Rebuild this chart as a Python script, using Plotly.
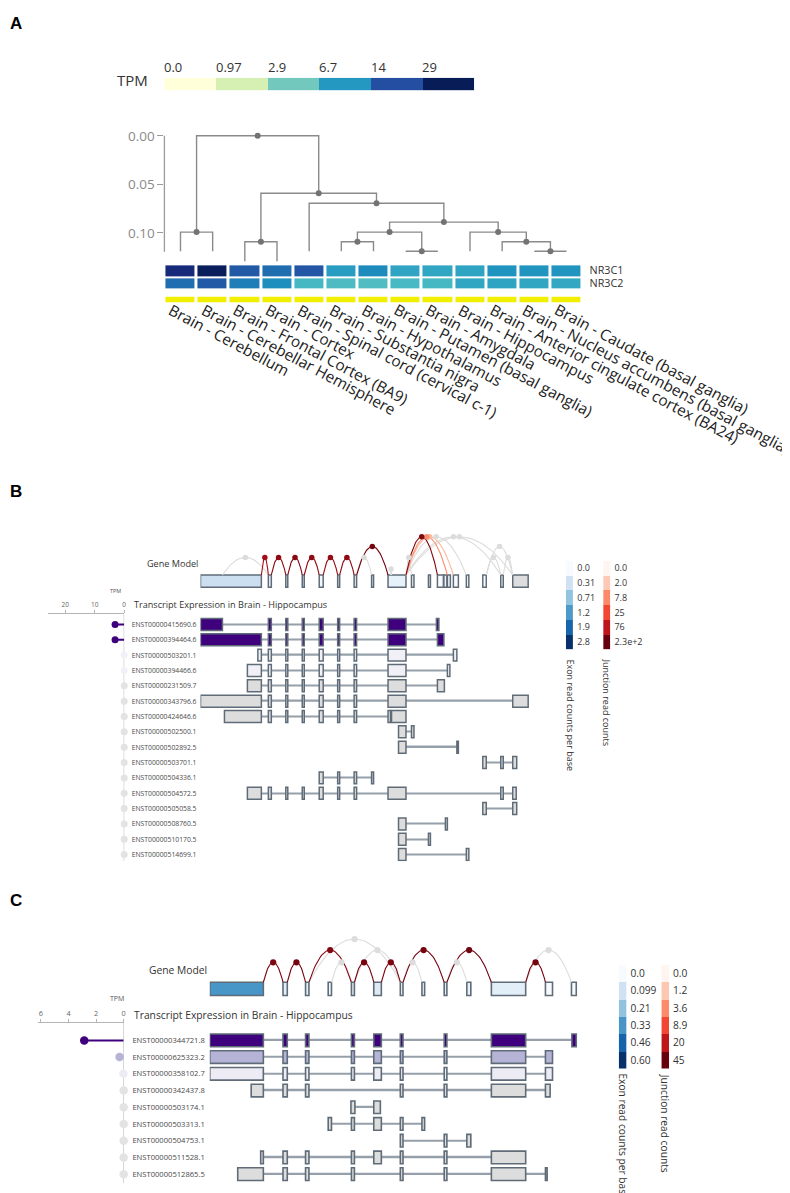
import numpy as np
import plotly.graph_objects as go

W, H = 790, 1193

# ----------------------------- colour scales -----------------------------
YLGNBU = ["#ffffd9", "#edf8b1", "#c7e9b4", "#7fcdbb", "#41b6c4", "#1d91c0", "#225ea8", "#253494", "#081d58"]
BLUES = ["#f7fbff", "#deebf7", "#c6dbef", "#9ecae1", "#6baed6", "#4292c6", "#2171b5", "#08519c", "#08306b"]
REDS = ["#fff5f0", "#fee0d2", "#fcbba1", "#fc9272", "#fb6a4a", "#ef3b2c", "#cb181d", "#a50f15", "#67000d"]
PURPLES = ["#fcfbfd", "#efedf5", "#dadaeb", "#bcbddc", "#9e9ac8", "#807dba", "#6a51a3", "#54278f", "#3f007d"]

# ----------------------------- Panel A data -----------------------------
tpm_bins = [0.0, 0.97, 2.9, 6.7, 14, 29]
tpm_bin_labels = ["0.0", "0.97", "2.9", "6.7", "14", "29"]
tissues = [
    "Brain - Cerebellum", "Brain - Cerebellar Hemisphere", "Brain - Frontal Cortex (BA9)",
    "Brain - Cortex", "Brain - Spinal cord (cervical c-1)", "Brain - Substantia nigra",
    "Brain - Hypothalamus", "Brain - Putamen (basal ganglia)", "Brain - Amygdala",
    "Brain - Hippocampus", "Brain - Anterior cingulate cortex (BA24)",
    "Brain - Nucleus accumbens (basal ganglia)", "Brain - Caudate (basal ganglia)",
]
genes = ["NR3C1", "NR3C2"]
nr3c1_tpm = [22.6, 28.5, 12.3, 10.2, 12.8, 6.4, 7.8, 5.7, 5.6, 5.8, 7.1, 7.0, 7.0]
nr3c2_tpm = [10.2, 12.5, 8.8, 7.5, 4.3, 4.0, 3.9, 4.2, 4.3, 5.6, 5.8, 5.6, 5.4]
# dendrogram merges (child a, child b, height); new node ids continue after the 13 leaves
dendro_merges = [
    (0, 1, 0.0993), (2, 3, 0.1093), (5, 6, 0.1093), (7, 8, 0.119), (15, 16, 0.0993),
    (11, 12, 0.119), (10, 18, 0.1093), (9, 19, 0.0993), (17, 20, 0.089), (4, 21, 0.0695),
    (14, 22, 0.0592), (13, 23, 0.0),
]
leaf_depth = [0.119, 0.119, 0.1294, 0.1294, 0.119, 0.119, 0.119, 0.119, 0.119, 0.119, 0.119, 0.119, 0.119]
dendro_ticks = [0.0, 0.05, 0.10]
dendro_tick_labels = ["0.00", "0.05", "0.10"]

# ----------------------------- Panel B data -----------------------------
b_exons = [(0, 61), (68, 71), (85.5, 87.5), (102, 104), (119, 123), (137.5, 139.5), (154, 156.5),
           (171.5, 173.5), (188, 206), (211.5, 214), (228.5, 230.5), (237.5, 243.5), (244, 247),
           (247.5, 250.5), (253.5, 258.5), (266.5, 269), (283, 286.5), (301, 303.5), (313, 328.5)]
b_exon_reads = [0.34, 0.10, 0.20, 0.20, 0.05, 0.20, 0.10, 0.05, 0.11, 0.05, 0.02, 0.0, 0.05,
                0.05, 0.0, 0.0, 0.0, 0.02, None]
b_exon_bins = [0.0, 0.31, 0.71, 1.2, 1.9, 2.8]
b_exon_bin_labels = ["0.0", "0.31", "0.71", "1.2", "1.9", "2.8"]
b_junc_bins = [0.0, 2.0, 7.8, 25, 76, 230]
b_junc_bin_labels = ["0.0", "2.0", "7.8", "25", "76", "2.3e+2"]
# (start, end, arc rise, read count)
b_junctions = [
    (22, 68, 17.6, 0), (156.5, 171.5, 17.6, 0), (190.5, 191.5, 6, 0), (206, 211.5, 17.6, 0),
    (206, 266.5, 38.3, 0), (206, 301, 38.3, 0), (206, 313, 38.3, 0), (286.5, 301, 17.6, 0),
    (303.5, 313, 17.6, 0), (286.5, 313, 28.6, 0), (206, 253.5, 38.3, 3), (206, 247.5, 38.3, 7),
    (61, 68, 17.6, 120), (71, 85.5, 17.6, 150), (87.5, 102, 17.6, 160), (104, 119, 17.6, 150),
    (123, 137.5, 17.6, 140), (139.5, 154, 17.6, 150), (156.5, 188, 28.6, 200), (206, 237.5, 38.3, 170),
]
b_ids = ["ENST00000415690.6", "ENST00000394464.6", "ENST00000503201.1", "ENST00000394466.6",
         "ENST00000231509.7", "ENST00000343796.6", "ENST00000424646.6", "ENST00000502500.1",
         "ENST00000502892.5", "ENST00000503701.1", "ENST00000504336.1", "ENST00000504572.5",
         "ENST00000505058.5", "ENST00000508760.5", "ENST00000510170.5", "ENST00000514699.1"]
b_tpm = [3.1, 3.1, 0.01, 0.01, 0, 0, 0, 0, 0, 0, 0, 0, 0, 0, 0, 0]
b_tx_exons = [
    [(0, 22), (68, 71), (85.5, 87.5), (102, 104), (119, 123), (137.5, 139.5), (154, 156.5), (188, 206), (236.5, 239)],
    [(0, 61), (68, 71), (85.5, 87.5), (102, 104), (119, 123), (137.5, 139.5), (154, 156.5), (188, 206), (237.5, 244)],
    [(57.5, 61), (68, 71), (85.5, 87.5), (102, 104), (119, 123), (137.5, 139.5), (154, 156.5), (188, 206), (253.5, 257)],
    [(47, 61), (68, 71), (85.5, 87.5), (102, 104), (119, 123), (137.5, 139.5), (154, 156.5), (188, 206), (247.5, 250)],
    [(47, 61), (68, 71), (85.5, 87.5), (102, 104), (119, 123), (137.5, 139.5), (154, 156.5), (188, 206), (237.5, 244.5)],
    [(0, 61), (68, 71), (85.5, 87.5), (102, 104), (119, 123), (137.5, 139.5), (154, 156.5), (188, 206), (313, 328.5)],
    [(24, 61), (68, 71), (85.5, 87.5), (102, 104), (119, 123), (137.5, 139.5), (154, 156.5), (188, 190.5), (191.5, 206)],
    [(198.5, 206), (211.5, 214)],
    [(198.5, 206), (257, 258.5)],
    [(283, 286.5), (301, 303.5), (313, 317)],
    [(119, 123), (137.5, 139.5), (154, 156.5), (171.5, 173.5)],
    [(47, 61), (68, 71), (85.5, 87.5), (102, 104), (119, 123), (137.5, 139.5), (154, 156.5), (188, 206), (301, 303.5), (313, 316.5)],
    [(283, 286.5), (313, 317)],
    [(198.5, 206), (245.5, 247.5)],
    [(198.5, 206), (228.5, 230.5)],
    [(198.5, 206), (266.5, 269)],
]

# ----------------------------- Panel C data -----------------------------
c_exons = [(0, 53.7), (73.4, 77.7), (96, 99.4), (118.7, 122), (142, 145), (164.4, 172), (191, 193.7),
           (212.7, 215.4), (235, 237.7), (257.7, 261.7), (282.3, 316.7), (336.5, 343.6), (362.6, 367.4)]
c_exon_reads = [0.33, 0.05, 0.05, 0.02, 0.05, 0.06, 0.02, 0.01, 0.04, 0.03, 0.05, 0.0, 0.0]
c_exon_bins = [0.0, 0.099, 0.21, 0.33, 0.46, 0.60]
c_exon_bin_labels = ["0.0", "0.099", "0.21", "0.33", "0.46", "0.60"]
c_junc_bins = [0.0, 1.2, 3.6, 8.9, 20, 45]
c_junc_bin_labels = ["0.0", "1.2", "3.6", "8.9", "20", "45"]
c_junctions = [
    (99.4, 191, 43.3, 0), (122, 142, 20, 0), (145, 191, 32.3, 0), (193.7, 212.7, 20, 0),
    (237.7, 257.7, 20, 0), (316.7, 362.6, 32.3, 0),
    (53.7, 73.4, 20, 38), (77.7, 96, 20, 40), (99.4, 142, 32.3, 36), (145, 164.4, 20, 40),
    (172, 191, 20, 38), (193.7, 235, 32.3, 40), (237.7, 282.3, 32.3, 42), (316.7, 336.5, 20, 40),
]
c_ids = ["ENST00000344721.8", "ENST00000625323.2", "ENST00000358102.7", "ENST00000342437.8",
         "ENST00000503174.1", "ENST00000503313.1", "ENST00000504753.1", "ENST00000511528.1",
         "ENST00000512865.5"]
c_tpm = [2.86, 0.3, 0.02, 0, 0, 0, 0, 0, 0]
c_tx_exons = [
    [(0, 53.7), (73.4, 77.7), (96, 99.4), (142, 145), (164.4, 172), (191, 193.7), (235, 237.7), (282.3, 316.7), (363, 367.4)],
    [(0, 53.7), (73.4, 77.7), (96, 99.4), (142, 145), (164.4, 172), (191, 193.7), (235, 237.7), (282.3, 316.7), (336.5, 343.6)],
    [(0, 53.7), (73.4, 77.7), (96, 99.4), (142, 145), (164.4, 172), (191, 193.7), (235, 237.7), (282.3, 316.7), (336.5, 343.6)],
    [(41.5, 53.7), (73.4, 77.7), (96, 99.4), (191, 193.7), (235, 237.7), (282.3, 316.7), (336.5, 341.2)],
    [(141.5, 145.5), (164.4, 171)],
    [(118.7, 122), (142, 145), (164.4, 172), (191, 193.7), (212.7, 215.4)],
    [(191, 193.7), (235, 237.7), (257.7, 261.7)],
    [(51, 53.7), (73.4, 77.7), (96, 99.4), (142, 145), (164.4, 172), (191, 193.7), (235, 237.7), (282.3, 316.7)],
    [(28, 53.7), (73.4, 77.7), (96, 99.4), (142, 145), (191, 193.7), (235, 237.7), (282.3, 316.7), (336.5, 338.2)],
]

# ----------------------------- helpers -----------------------------
OUTLINE = "#5f6c78"
INTRON = "#96a0aa"
NODATA = "#dddddd"
JGREY = "#dcdcdc"
AXC = "#b5b5b5"
FONT = "Open Sans"


def hex2rgb(h):
    h = h.lstrip("#")
    return tuple(int(h[i:i + 2], 16) for i in (0, 2, 4))


def interp(colors, t):
    t = min(max(float(t), 0.0), 1.0)
    n = len(colors) - 1
    i = min(int(t * n), n - 1)
    f = t * n - i
    c0, c1 = hex2rgb(colors[i]), hex2rgb(colors[i + 1])
    return "rgb(%d,%d,%d)" % tuple(round(a + (b - a) * f) for a, b in zip(c0, c1))


def xdom(a, b):
    return [a / W, b / W]


def ydom(top, bottom):
    return [1 - bottom / H, 1 - top / H]


def px(x):
    return x / W


def py(y):
    return 1 - y / H


def hidden(**kw):
    d = dict(showgrid=False, zeroline=False, showline=False, ticks="", showticklabels=False, fixedrange=True)
    d.update(kw)
    return d


traces, annotations, shapes = [], [], []
layout = {}


def text(x, y, s, size, color="#333", xanchor="left", yanchor="middle", **kw):
    d = dict(x=px(x), y=py(y), xref="paper", yref="paper", text=s, showarrow=False,
             xanchor=xanchor, yanchor=yanchor, font=dict(size=size, color=color, family=FONT))
    d.update(kw)
    annotations.append(d)


# ============================= Panel A =============================
for lab, (lxp, lyp) in zip(["A", "B", "C"], [(8.5, 10.5), (8, 481), (8, 891.5)]):
    text(lxp, lyp, "<b>%s</b>" % lab, 17, "#000", xanchor="center",
         font=dict(size=17, color="#000", family="Liberation Sans"))

# TPM legend
tmax_log = np.log10(tpm_bins[-1] + 1)
leg_cols = [interp(YLGNBU, np.log10(b + 1) / tmax_log) for b in tpm_bins]
nb = len(tpm_bins)
traces.append(go.Heatmap(z=[list(range(nb))], x=list(range(nb)), y=[0],
                         colorscale=[[i / (nb - 1), c] for i, c in enumerate(leg_cols)],
                         zmin=0, zmax=nb - 1, showscale=False, hoverinfo="skip", xaxis="x", yaxis="y"))
layout["xaxis"] = hidden(domain=xdom(156.7, 467.3), range=[-0.5, nb - 0.5], anchor="y")
layout["yaxis"] = hidden(domain=ydom(65, 77.7), range=[-0.5, 0.5], anchor="x")
for i, lab in enumerate(tpm_bin_labels):
    annotations.append(dict(x=i - 0.5, xref="x", y=py(54), yref="paper", text=lab, showarrow=False,
                            xanchor="left", yanchor="middle", xshift=-2,
                            font=dict(size=13, color="#333", family=FONT)))
text(142, 67, "TPM", 15, "#333", xanchor="right")

# dendrogram
nleaf = len(tissues)
node_x = {i: float(i) for i in range(nleaf)}
node_h = {i: leaf_depth[i] for i in range(nleaf)}
lx, ly, dxs, dys = [], [], [], []
for k, (a, b, h) in enumerate(dendro_merges):
    nid = nleaf + k
    xa, xb = node_x[a], node_x[b]
    lx += [xa, xa, xb, xb, None]
    ly += [node_h[a], h, h, node_h[b], None]
    node_x[nid] = (xa + xb) / 2
    node_h[nid] = h
    dxs.append(node_x[nid])
    dys.append(h)
traces.append(go.Scatter(x=lx, y=ly, mode="lines", line=dict(color="#8a8a8a", width=1.4),
                         hoverinfo="skip", xaxis="x2", yaxis="y2"))
traces.append(go.Scatter(x=dxs, y=dys, mode="markers", marker=dict(color="#737373", size=6),
                         hoverinfo="skip", xaxis="x2", yaxis="y2", cliponaxis=False))
HM_X = (156.8, 576.05)
DEN_PX0, DEN_SCALE = 123.3, 974.0
den_top, den_bot = 119.0, 251.0
layout["xaxis2"] = hidden(domain=xdom(*HM_X), range=[-0.5, nleaf - 0.5], anchor="y2")
layout["yaxis2"] = hidden(domain=ydom(den_top, den_bot),
                          range=[(den_bot - DEN_PX0) / DEN_SCALE, (den_top - DEN_PX0) / DEN_SCALE],
                          anchor="x2", tickvals=dendro_ticks, ticktext=dendro_tick_labels,
                          showticklabels=True, ticks="outside", ticklen=6, tickcolor="#9a9a9a",
                          tickfont=dict(size=13.5, color="#8a8a8a", family=FONT))
shapes.append(dict(type="line", xref="x2 domain", x0=0, x1=0, yref="y2", y0=0, y1=0.1195,
                   line=dict(color="#9a9a9a", width=1.3)))

# expression heatmap
zlog = [[float(np.log10(v + 1)) for v in nr3c1_tpm], [float(np.log10(v + 1)) for v in nr3c2_tpm]]
traces.append(go.Heatmap(z=zlog, x=tissues, y=genes,
                         colorscale=[[i / (len(YLGNBU) - 1), c] for i, c in enumerate(YLGNBU)],
                         zmin=0, zmax=tmax_log, showscale=False, xgap=3, ygap=2, hoverinfo="skip",
                         xaxis="x3", yaxis="y3"))
layout["xaxis3"] = hidden(domain=xdom(*HM_X), range=[-0.5, nleaf - 0.5], anchor="y3")
layout["yaxis3"] = hidden(domain=ydom(252.4, 278.0), range=[len(genes) - 0.5, -0.5], anchor="x3", side="right",
                          showticklabels=True, ticklabelstandoff=6, type="category",
                          tickmode="array", tickvals=genes, ticktext=genes,
                          tickfont=dict(size=10.8, color="#333", family=FONT))

# tissue colour bar
traces.append(go.Heatmap(z=[[1] * nleaf], x=tissues, y=["tissue"], colorscale=[[0, "#f2ee00"], [1, "#f2ee00"]],
                         showscale=False, xgap=3, hoverinfo="skip", xaxis="x4", yaxis="y4"))
layout["xaxis4"] = hidden(domain=xdom(*HM_X), range=[-0.5, nleaf - 0.5], anchor="y4")
layout["yaxis4"] = hidden(domain=ydom(284.7, 290.7), anchor="x4")
for t in tissues:
    annotations.append(dict(x=t, xref="x4", y=py(285), yref="paper", text=t, showarrow=False,
                            textangle=28, xanchor="left", yanchor="top", xshift=-18,
                            font=dict(size=15.4, color="#222", family=FONT)))


# ============================= Panels B and C =============================
def build_panel(n, P):
    gx, gy = "x%d" % n, "y%d" % n
    tx, ty = "x%d" % (n + 1), "y%d" % (n + 1)
    tpx = "x%d" % (n + 2)
    x_dom = xdom(P["x0"], P["x0"] + P["xspan"])

    # ---- gene model ----
    g_top, g_bot = P["gm_dom"]
    c = P["gm_center"]
    layout["xaxis%d" % n] = hidden(domain=x_dom, range=[0, P["xspan"]], anchor=gy)
    layout["yaxis%d" % n] = hidden(domain=ydom(g_top, g_bot), range=[c - g_bot, c - g_top], anchor=gx)
    rmax = np.log10(P["exon_bins"][-1] + 1)
    fills = [NODATA if v is None else interp(BLUES, np.log10(v + 1) / rmax) for v in P["reads"]]
    traces.append(go.Bar(orientation="h", y=[0] * len(P["exons"]), base=[s for s, e in P["exons"]],
                         x=[e - s for s, e in P["exons"]], width=2 * P["half"],
                         marker=dict(color=fills, line=dict(color=OUTLINE, width=P["lw"])),
                         hoverinfo="skip", xaxis=gx, yaxis=gy))
    jmax = np.log10(P["junc_bins"][-1] + 1)
    u = np.linspace(0, 1, 41)
    dot_x, dot_y, dot_c = [], [], []
    for (s, e, rise, cnt) in P["junctions"]:
        col = JGREY if cnt == 0 else interp(REDS, np.log10(cnt + 1) / jmax)
        traces.append(go.Scatter(x=s + (e - s) * u, y=P["half"] + rise * (1 - (2 * u - 1) ** 2),
                                 mode="lines", line=dict(color=col, width=1.1),
                                 hoverinfo="skip", xaxis=gx, yaxis=gy))
        dot_x.append((s + e) / 2)
        dot_y.append(P["half"] + rise)
        dot_c.append(col)
    traces.append(go.Scatter(x=dot_x, y=dot_y, mode="markers", marker=dict(color=dot_c, size=P["dot"]),
                             hoverinfo="skip", xaxis=gx, yaxis=gy, cliponaxis=False))
    text(P["gm_label"][0], P["gm_label"][1], "Gene Model", P["gm_font"], "#333", xanchor="right")

    # ---- transcripts ----
    nrow = len(P["ids"])
    row0, pitch = P["row0"], P["pitch"]
    r_top, r_bot = P["rows_ext"]
    t_top, t_bot = row0 + r_top * pitch, row0 + (nrow - 1 + r_bot) * pitch
    layout["xaxis%d" % (n + 1)] = hidden(domain=x_dom, range=[0, P["xspan"]], anchor=ty)
    layout["yaxis%d" % (n + 1)] = dict(domain=ydom(t_top, t_bot), range=[nrow - 1 + r_bot, r_top], anchor=tx,
                                       tickvals=list(range(nrow)), ticktext=P["ids"], showticklabels=True,
                                       ticks="", ticklabelstandoff=P["id_standoff"], showgrid=False,
                                       zeroline=False, showline=False, fixedrange=True,
                                       tickfont=dict(size=P["id_font"], color="#4a4a4a", family=FONT))
    tmax = max(P["tpm"])
    row_fill = [NODATA if t == 0 else interp(PURPLES, (t / tmax) ** 0.4) for t in P["tpm"]]
    iy, ib, il = [], [], []
    ey, eb, el, ec = [], [], [], []
    for i, ex in enumerate(P["tx"]):
        lo = min(s for s, e in ex)
        hi = max(e for s, e in ex)
        iy.append(i); ib.append(lo); il.append(hi - lo)
        for s, e in ex:
            ey.append(i); eb.append(s); el.append(e - s); ec.append(row_fill[i])
    traces.append(go.Bar(orientation="h", y=iy, base=ib, x=il, width=P["intron"] / pitch,
                         marker=dict(color=INTRON, line=dict(width=0)), hoverinfo="skip", xaxis=tx, yaxis=ty))
    traces.append(go.Bar(orientation="h", y=ey, base=eb, x=el, width=P["box_w"],
                         marker=dict(color=ec, line=dict(color=OUTLINE, width=P["lw"])),
                         hoverinfo="skip", xaxis=tx, yaxis=ty))

    # ---- TPM lollipops ----
    for i, t in enumerate(P["tpm"]):
        if t > 0:
            traces.append(go.Scatter(x=[0, t], y=[i, i], mode="lines", line=dict(color=row_fill[i], width=2),
                                     hoverinfo="skip", xaxis=tpx, yaxis=ty, cliponaxis=False))
    traces.append(go.Scatter(x=P["tpm"], y=list(range(nrow)), mode="markers",
                             marker=dict(color=[("#e3e3e3" if t == 0 else row_fill[i]) for i, t in enumerate(P["tpm"])],
                                         size=P["lolli"]),
                             hoverinfo="skip", xaxis=tpx, yaxis=ty, cliponaxis=False))
    layout["xaxis%d" % (n + 2)] = dict(domain=xdom(*P["tpm_dom"]), range=[P["tpm_range"], 0], anchor=ty, side="top",
                                       showline=True, linecolor=AXC, linewidth=1, ticks="outside", ticklen=3,
                                       tickcolor=AXC, tickvals=P["tpm_ticks"], showticklabels=True,
                                       tickfont=dict(size=P["tick_font"], color="#666", family=FONT),
                                       showgrid=False, zeroline=False, fixedrange=True)
    shapes.append(dict(type="line", xref=tpx, x0=0, x1=0, yref="%s domain" % ty, y0=0, y1=1, layer="below",
                       line=dict(color=AXC, width=1)))
    text(P["tpm_title"][0], P["tpm_title"][1], "TPM", P["tpm_title_font"], "#555", xanchor="center")
    text(P["title"][0], P["title"][1], "Transcript Expression in Brain - Hippocampus", P["title_font"], "#333")

    # ---- legends ----
    for k, (bins, labels, scale, xr, ttl) in enumerate([
        (P["exon_bins"], P["exon_labels"], BLUES, P["leg_ex_x"], "Exon read counts per base"),
        (P["junc_bins"], P["junc_labels"], REDS, P["leg_jn_x"], "Junction read counts"),
    ]):
        a = n + 3 + k
        lmax = np.log10(bins[-1] + 1)
        cols = [interp(scale, np.log10(b + 1) / lmax) for b in bins]
        m = len(bins)
        traces.append(go.Heatmap(z=[[i] for i in range(m)], x=[0], y=labels,
                                 colorscale=[[i / (m - 1), cc] for i, cc in enumerate(cols)],
                                 zmin=0, zmax=m - 1, showscale=False, hoverinfo="skip",
                                 xaxis="x%d" % a, yaxis="y%d" % a))
        layout["xaxis%d" % a] = hidden(domain=xdom(*xr), range=[-0.5, 0.5], anchor="y%d" % a)
        layout["yaxis%d" % a] = dict(domain=ydom(*P["leg_y"]), range=[m - 0.5, -0.5], type="category", side="right",
                                     anchor="x%d" % a, showticklabels=True, ticks="", ticklabelstandoff=3,
                                     tickmode="array", tickvals=labels, ticktext=labels,
                                     showgrid=False, zeroline=False, showline=False, fixedrange=True,
                                     tickfont=dict(size=P["leg_font"], color="#333", family=FONT))
        text((xr[0] + xr[1]) / 2, P["leg_title_top"], ttl, P["leg_font"], "#333",
             xanchor="center", yanchor="top", textangle=90)


build_panel(5, dict(
    exons=b_exons, reads=b_exon_reads, junctions=b_junctions, ids=b_ids, tpm=b_tpm, tx=b_tx_exons,
    exon_bins=b_exon_bins, exon_labels=b_exon_bin_labels, junc_bins=b_junc_bins, junc_labels=b_junc_bin_labels,
    x0=193.0, xspan=330.0, gm_dom=(515, 580), gm_center=570.5, half=6.15, lw=1.5, dot=5.5,
    gm_label=(192, 553.3), gm_font=9.1,
    row0=614.0, pitch=15.41, rows_ext=(-0.71, 0.43), id_font=6.8, id_standoff=3, box_w=0.78, intron=1.4,
    lolli=7, tpm_dom=(39.7, 116.5), tpm_range=26, tpm_ticks=[0, 10, 20], tick_font=6.5,
    tpm_title=(107.4, 580.7), tpm_title_font=5.5, title=(124, 594), title_font=9.1,
    leg_ex_x=(559.3, 566.7), leg_jn_x=(596.7, 604), leg_y=(550, 639), leg_font=9, leg_title_top=646.7,
))

build_panel(10, dict(
    exons=c_exons, reads=c_exon_reads, junctions=c_junctions, ids=c_ids, tpm=c_tpm, tx=c_tx_exons,
    exon_bins=c_exon_bins, exon_labels=c_exon_bin_labels, junc_bins=c_junc_bins, junc_labels=c_junc_bin_labels,
    x0=202.3, xspan=372.0, gm_dom=(915, 990), gm_center=980.0, half=6.7, lw=1.6, dot=6.2,
    gm_label=(201.5, 961), gm_font=10.3,
    row0=1031.7, pitch=16.79, rows_ext=(-1.05, 0.54), id_font=7.6, id_standoff=4, box_w=0.756, intron=1.5,
    lolli=8.5, tpm_dom=(29.8, 116.0), tpm_range=6.23, tpm_ticks=[0, 2, 4, 6], tick_font=7.3,
    tpm_title=(108.8, 990), tpm_title_font=7, title=(124, 1006.7), title_font=10.3,
    leg_ex_x=(612.3, 620), leg_jn_x=(655, 662.7), leg_y=(956, 1060), leg_font=10.2, leg_title_top=1063,
))

fig = go.Figure(data=traces)
fig.update_layout(
    width=W, height=H, autosize=False, margin=dict(l=0, r=0, t=0, b=0),
    paper_bgcolor="white", plot_bgcolor="rgba(0,0,0,0)", showlegend=False, barmode="overlay",
    font=dict(family=FONT, color="#333"), annotations=annotations, shapes=shapes, **layout,
)
fig.write_html("out.html")
